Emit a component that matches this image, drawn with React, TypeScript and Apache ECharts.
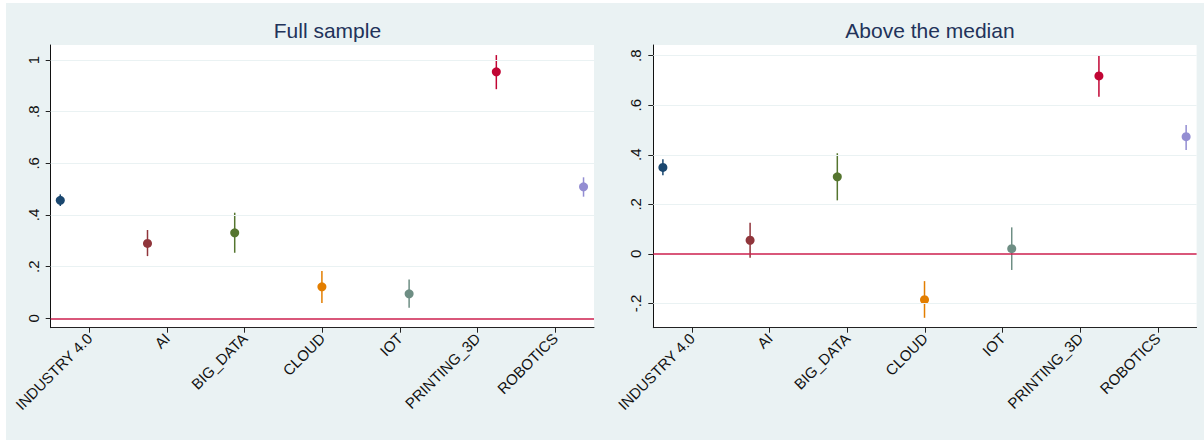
import React, { useEffect, useRef } from "react";
import * as echarts from "echarts";

// ---- data ----
const categories = ["INDUSTRY 4.0", "AI", "BIG_DATA", "CLOUD", "IOT", "PRINTING_3D", "ROBOTICS"];
const pointColors = ["#1a476f", "#90353b", "#55752f", "#e37e00", "#6e8e84", "#c10534", "#938dd2"];

const fullCoef = [0.457, 0.29, 0.331, 0.122, 0.095, 0.954, 0.509];
const fullLo = [0.435, 0.241, 0.254, 0.06, 0.041, 0.887, 0.471];
const fullHi = [0.48, 0.342, 0.409, 0.183, 0.151, 1.019, 0.546];

const medCoef = [0.349, 0.055, 0.311, -0.185, 0.021, 0.718, 0.473];
const medLo = [0.317, -0.016, 0.216, -0.258, -0.065, 0.634, 0.419];
const medHi = [0.382, 0.126, 0.406, -0.11, 0.107, 0.803, 0.52];

const leftTicks = [0, 0.2, 0.4, 0.6, 0.8, 1];
const rightTicks = [-0.2, 0, 0.2, 0.4, 0.6, 0.8];

const titles = ["Full sample", "Above the median"];

const FONT = "'Liberation Sans', Arial, Helvetica, sans-serif";
const BG = "#eaf2f3";

const fmt = (v: number) => {
  const r = Math.round(v * 10) / 10;
  let s = String(r);
  if (s.startsWith("0.")) s = s.slice(1);
  else if (s.startsWith("-0.")) s = "-" + s.slice(2);
  return s;
};

export default function App() {
  const ref = useRef<HTMLDivElement>(null);
  useEffect(() => {
    if (!ref.current) return;
    const chart = echarts.init(ref.current, undefined, { renderer: "svg" });

    const gridTop = 45;
    const gridH = 282.7;
    const gridW = 543.3;
    const grids = [
      { left: 50.7, top: gridTop, width: gridW, height: gridH, show: true, backgroundColor: "#ffffff", borderWidth: 0 },
      { left: 653.3, top: gridTop, width: gridW, height: gridH, show: true, backgroundColor: "#ffffff", borderWidth: 0 },
    ];

    const catAxis = (gi: number) => ({
      type: "category",
      gridIndex: gi,
      data: categories,
      boundaryGap: true,
      position: "bottom",
      axisLine: { show: true, onZero: false, lineStyle: { color: "#222", width: 1 } },
      axisTick: { show: true, alignWithLabel: true, length: 5, lineStyle: { color: "#222" } },
      axisLabel: { interval: 0, rotate: 45, margin: 8, fontSize: 15, color: "#111", fontFamily: FONT },
      splitLine: { show: false },
    });
    const valX = (gi: number) => ({
      type: "value",
      gridIndex: gi,
      min: -0.11,
      max: 6.12,
      show: false,
      splitLine: { show: false },
    });
    const yAxis = (gi: number, min: number, max: number, ticks: number[]) => ({
      type: "value",
      gridIndex: gi,
      min,
      max,
      axisLine: { show: true, onZero: false, lineStyle: { color: "#111", width: 1 } },
      axisTick: { show: true, length: 5, customValues: ticks, lineStyle: { color: "#222" } },
      axisLabel: {
        customValues: ticks,
        rotate: 90,
        margin: 10,
        fontSize: 15,
        color: "#111",
        fontFamily: FONT,
        formatter: (v: number) => fmt(v),
      },
      splitLine: { show: false },
    });

    const makeSeries = (gi: number, coef: number[], lo: number[], hi: number[], ticks: number[]) => {
      const xi = gi * 2 + 1;
      return [
        {
          type: "custom",
          xAxisIndex: xi,
          yAxisIndex: gi,
          z: 2,
          silent: true,
          encode: { x: 0, y: [1, 2] },
          data: categories.map((_, i) => [i, lo[i], hi[i], i]),
          renderItem: (params: any, api: any) => {
            const x = api.value(0);
            const p1 = api.coord([x, api.value(1)]);
            const p2 = api.coord([x, api.value(2)]);
            return {
              type: "line",
              shape: { x1: p1[0], y1: p1[1], x2: p2[0], y2: p2[1] },
              style: { stroke: pointColors[api.value(3)], lineWidth: 1.5 },
            };
          },
          markLine: {
            silent: true,
            symbol: "none",
            label: { show: false },
            animation: false,
            data: [
              ...ticks.filter((t) => t !== 0).map((t) => ({ yAxis: t, lineStyle: { color: BG, width: 1, type: "solid" } })),
              { yAxis: 0, lineStyle: { color: "#cc1f4e", width: 1.6, type: "solid" } },
            ],
          },
        },
        {
          type: "scatter",
          xAxisIndex: xi,
          yAxisIndex: gi,
          z: 3,
          symbol: "circle",
          symbolSize: 9,
          silent: true,
          data: categories.map((_, i) => ({ value: [i, coef[i]], itemStyle: { color: pointColors[i], opacity: 1 } })),
        },
      ];
    };

    const titleStyle = { fontSize: 21, fontWeight: "normal", color: "#22335a", fontFamily: FONT };
    const option: any = {
      animation: false,
      backgroundColor: BG,
      textStyle: { fontFamily: FONT },
      graphic: [
        { type: "rect", left: 0, top: 0, shape: { x: 0, y: 0, width: 1204, height: 3 }, style: { fill: "#ffffff" }, silent: true },
        { type: "rect", left: 0, top: 0, shape: { x: 0, y: 0, width: 6, height: 440 }, style: { fill: "#ffffff" }, silent: true },
      ],
      title: [
        { text: titles[0], left: 322.4, top: 15, textAlign: "center", textStyle: titleStyle },
        { text: titles[1], left: 925, top: 15, textAlign: "center", textStyle: titleStyle },
      ],
      grid: grids,
      xAxis: [catAxis(0), valX(0), catAxis(1), valX(1)],
      yAxis: [yAxis(0, -0.036, 1.058, leftTicks), yAxis(1, -0.298, 0.843, rightTicks)],
      series: [
        ...makeSeries(0, fullCoef, fullLo, fullHi, leftTicks),
        ...makeSeries(1, medCoef, medLo, medHi, rightTicks),
      ],
    };
    chart.setOption(option);
    return () => chart.dispose();
  }, []);

  return (
    <div style={{ position: "absolute", left: 0, top: 0, width: 1204, height: 440, background: "#fff" }}>
      <div ref={ref} style={{ width: 1204, height: 440 }} />
    </div>
  );
}
